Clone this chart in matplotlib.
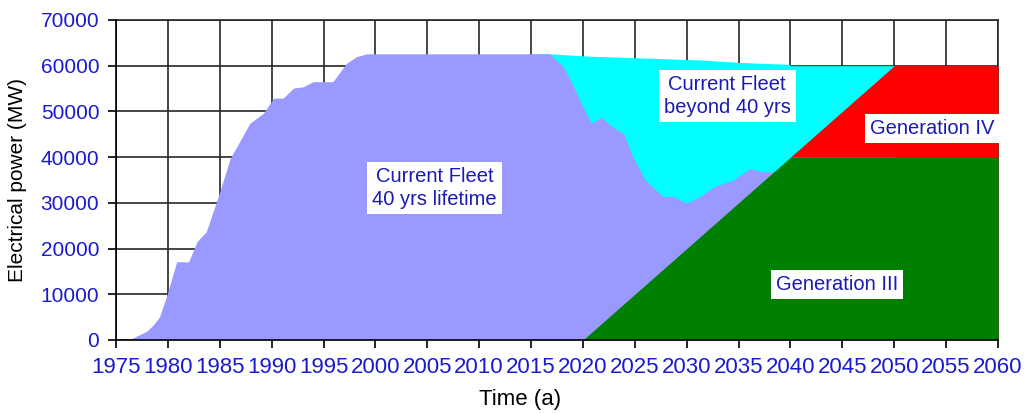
import matplotlib
matplotlib.use("Agg")
import matplotlib.pyplot as plt
import numpy as np

plt.rcParams['font.family'] = ['Liberation Sans', 'DejaVu Sans']

# current fleet, 40 yrs lifetime (top of stack over Gen III)
fleet_years = [1975, 1976.2, 1977.6, 1978.0, 1978.6, 1979.2, 1979.9, 1980.85, 1982.0,
               1982.8, 1983.7, 1984.9, 1986.0, 1987.9, 1989.2, 1990.2, 1991.1, 1992.1,
               1993.05, 1994.0, 1995.9, 1997.2, 1998.2, 1999.2, 2016.8, 2018.1, 2019.1,
               2020.0, 2020.8, 2021.8, 2022.9, 2023.9, 2024.8, 2026.0, 2027.7, 2028.7,
               2030.0, 2031.3, 2032.6, 2034.5, 2036.1, 2037.4, 2038.7, 2039.5]
fleet_mw = [0, 0, 1500, 2000, 3300, 5100, 9800, 17100, 17100,
            21500, 23700, 31700, 39700, 47400, 49600, 52900, 52900, 55100,
            55400, 56500, 56500, 60500, 62000, 62600, 62600, 59800, 55400,
            51000, 47400, 48700, 46500, 45200, 40100, 35000, 31400, 31400,
            29900, 31400, 33500, 35000, 37500, 36800, 36800, 0]

# current fleet with lifetime beyond 40 yrs (total)
ext_years = [2015, 2016.8, 2020.4, 2026.8, 2031.3, 2035.1, 2039.9, 2040.0, 2050.0]
ext_mw = [62600, 62600, 62100, 61600, 61250, 60700, 60300, 60000, 60000]

gen3_years = [2020, 2040, 2060]
gen3_mw = [0, 40000, 40000]

gen4_years = [2040, 2050, 2060]
gen4_mw = [0, 20000, 20000]

xticks = list(range(1975, 2061, 5))
yticks = list(range(0, 70001, 10000))

fig = plt.figure(figsize=(10.24, 4.13), dpi=100)
ax = fig.add_axes([0.1133, 0.1768, 0.8613, 0.7748])

ax.fill_between(ext_years, ext_mw, color='#00ffff', lw=0, zorder=2)
ax.fill_between(fleet_years, fleet_mw, color='#9999ff', lw=0, zorder=3)
ax.fill_between(gen3_years, gen3_mw, color='#008000', lw=0, zorder=4)
base4 = np.interp(gen4_years, gen3_years, gen3_mw)
ax.fill_between(gen4_years, base4, base4 + np.array(gen4_mw), color='#ff0000', lw=0, zorder=4)

ax.set_xlim(1975, 2060)
ax.set_ylim(0, 70000)
ax.set_xticks(xticks)
ax.set_yticks(yticks)
ax.set_axisbelow(True)
ax.grid(True, color='#262626', lw=1.2)

for s in ax.spines.values():
    s.set_color('#262626')
    s.set_linewidth(1.2)
ax.spines['left'].set_color('black')
ax.spines['bottom'].set_color('black')
ax.spines['left'].set_zorder(6)
ax.spines['bottom'].set_zorder(6)

ax.tick_params(direction='out', length=6, width=1.2, color='black',
               labelcolor='#1a1ad0')
ax.tick_params(axis='y', pad=6, labelsize=15)
ax.tick_params(axis='x', pad=6, labelsize=16)

ax.set_ylabel('Electrical power (MW)', fontsize=15)
ax.set_xlabel('Time (a)', fontsize=16)
ax.yaxis.set_label_coords(-0.101, 0.5)
ax.xaxis.set_label_coords(0.458, -0.152)

box = dict(boxstyle='square,pad=0.25', fc='white', ec='none')
txt = dict(color='#1a1ab4', fontsize=14.5, ha='center', va='center', bbox=box,
           zorder=7, linespacing=1.25)
ax.text(2005.7, 33300, 'Current Fleet\n40 yrs lifetime', **txt)
ax.text(2033.9, 53400, 'Current Fleet\nbeyond 40 yrs', **txt)
ax.text(2053.7, 46200, 'Generation IV', **txt)
ax.text(2044.5, 12200, 'Generation III', **txt)

fig.savefig('out.png', dpi=100)
